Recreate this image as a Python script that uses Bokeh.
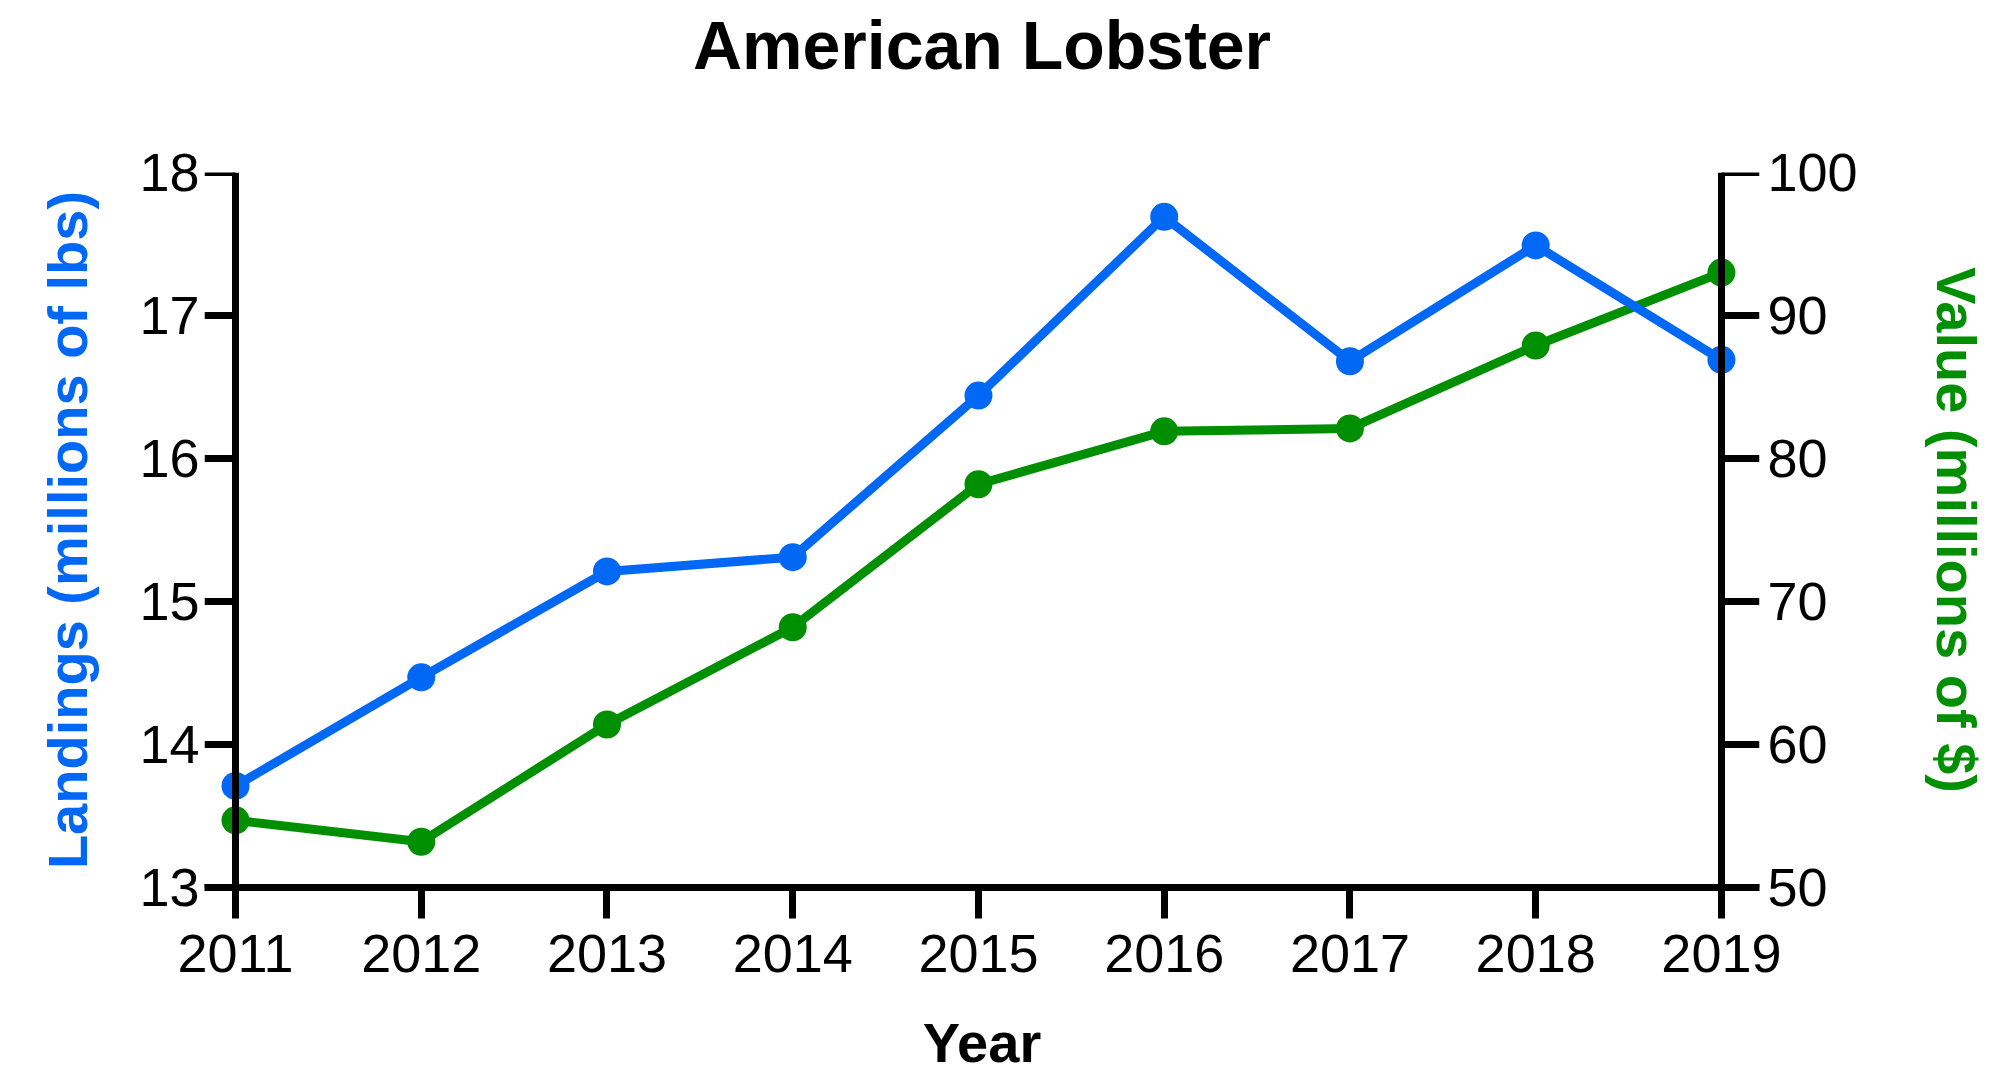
from bokeh.plotting import figure
from bokeh.models import Range1d, LinearAxis, FixedTicker, Title
from bokeh.embed import file_html
from bokeh.resources import INLINE

years = [2011, 2012, 2013, 2014, 2015, 2016, 2017, 2018, 2019]
landings = [13.71, 14.47, 15.21, 15.31, 16.44, 17.69, 16.68, 17.49, 16.69]
value = [54.7, 53.2, 61.4, 68.2, 78.2, 81.9, 82.1, 87.9, 93.0]
left_ticks = [13, 14, 15, 16, 17, 18]
right_ticks = [50, 60, 70, 80, 90, 100]

BLUE = "#0068f5"
GREEN = "#008f00"
FONT = "Liberation Sans"

p = figure(width=1993, height=1078, output_backend="svg", toolbar_location=None, title=None,
           x_range=Range1d(2011 - 0.167, 2019 + 0.205), y_range=Range1d(13, 18),
           min_border_left=204, min_border_right=234, min_border_top=172, min_border_bottom=191,
           y_axis_location=None, x_axis_location=None)
p.extra_y_ranges = {"value": Range1d(50, 100)}
p.grid.visible = False
p.outline_line_color = None

# invisible spacer between frame and title
spacer = LinearAxis(ticker=FixedTicker(ticks=[2015]))
spacer.axis_line_color = None
spacer.major_tick_line_color = None
spacer.minor_tick_line_color = None
spacer.major_tick_in = 0
spacer.major_tick_out = 88
spacer.major_label_standoff = 0
spacer.major_label_text_font_size = "0px"
spacer.major_label_text_color = None
p.add_layout(spacer, "above")

title = Title(text="American Lobster", text_font=FONT, text_font_size="68px",
              text_font_style="bold", text_color="black", align="center", standoff=4)
p.add_layout(title, "above")


def lines_only(ax, tick_out):
    ax.axis_line_width = 7
    ax.axis_line_color = "black"
    ax.major_tick_line_width = 7
    ax.major_tick_out = tick_out
    ax.major_tick_in = 0
    ax.minor_tick_line_color = None
    ax.major_label_text_font_size = "0px"
    ax.major_label_text_color = None


def labels_only(ax, standoff):
    ax.axis_line_color = None
    ax.major_tick_line_color = None
    ax.minor_tick_line_color = None
    ax.major_tick_out = 0
    ax.major_tick_in = 0
    ax.major_label_standoff = standoff
    ax.major_label_text_font = FONT
    ax.major_label_text_font_size = "54px"
    ax.major_label_text_color = "black"
    ax.axis_label_text_font = FONT
    ax.axis_label_text_font_size = "56px"
    ax.axis_label_text_font_style = "bold"


# bottom axis (at frame bottom)
xaxis = LinearAxis(ticker=FixedTicker(ticks=years), axis_label="Year")
xaxis.axis_line_width = 7
xaxis.major_tick_line_width = 7
xaxis.major_tick_out = 31
xaxis.major_tick_in = 0
xaxis.minor_tick_line_color = None
xaxis.major_label_standoff = 16
xaxis.major_label_text_font = FONT
xaxis.major_label_text_font_size = "54px"
xaxis.major_label_text_color = "black"
xaxis.axis_label_text_font = FONT
xaxis.axis_label_text_font_size = "56px"
xaxis.axis_label_text_font_style = "bold"
xaxis.axis_label_text_color = "black"
xaxis.axis_label_standoff = 36
p.add_layout(xaxis, "below")

# left: labels at frame edge, line/ticks at 2011
llab = LinearAxis(ticker=FixedTicker(ticks=left_ticks), axis_label="Landings (millions of lbs)")
labels_only(llab, 5)
llab.axis_label_standoff = 37
llab.axis_label_text_color = BLUE
p.add_layout(llab, "left")

lline = LinearAxis(ticker=FixedTicker(ticks=left_ticks), fixed_location=2011)
lines_only(lline, 31)
p.add_layout(lline, "left")

# right: labels at frame edge, line/ticks at 2019
rlab = LinearAxis(ticker=FixedTicker(ticks=right_ticks), y_range_name="value",
                  axis_label="Value (millions of $)")
labels_only(rlab, 8)
rlab.axis_label_standoff = 64
rlab.axis_label_text_color = GREEN
p.add_layout(rlab, "right")

rline = LinearAxis(ticker=FixedTicker(ticks=right_ticks), y_range_name="value", fixed_location=2019)
lines_only(rline, 38)
p.add_layout(rline, "right")

p.line(years, value, y_range_name="value", line_color=GREEN, line_width=9)
p.scatter(years, value, y_range_name="value", size=28, fill_color=GREEN, line_color=None)
p.line(years, landings, line_color=BLUE, line_width=9)
p.scatter(years, landings, size=28, fill_color=BLUE, line_color=None)

open("out.html", "w").write(file_html(p, INLINE))
